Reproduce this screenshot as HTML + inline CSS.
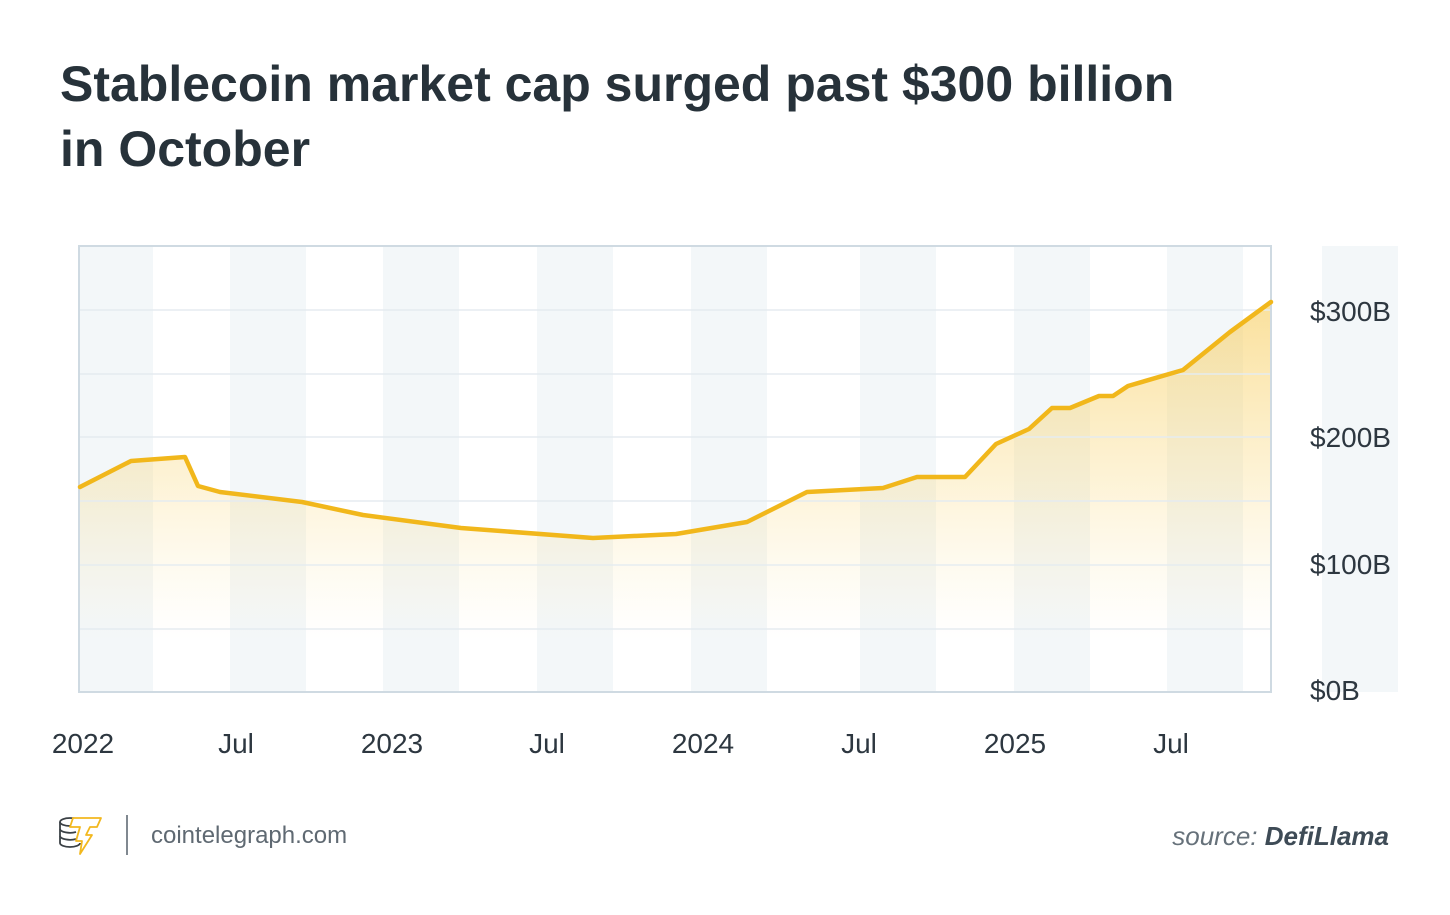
<!DOCTYPE html>
<html>
<head>
<meta charset="utf-8">
<style>
  html, body { margin: 0; padding: 0; background: #ffffff; }
  body { width: 1450px; height: 915px; overflow: hidden; }
  svg { display: block; }
</style>
</head>
<body>
<svg width="1450" height="915" viewBox="0 0 1450 915" xmlns="http://www.w3.org/2000/svg">
  <defs>
    <linearGradient id="fillGrad" gradientUnits="userSpaceOnUse" x1="0" y1="300" x2="0" y2="640">
      <stop offset="0" stop-color="#f7cd5e" stop-opacity="0.62"/>
      <stop offset="0.55" stop-color="#f9d675" stop-opacity="0.28"/>
      <stop offset="1" stop-color="#fbe3a0" stop-opacity="0"/>
    </linearGradient>
  </defs>

  <rect x="0" y="0" width="1450" height="915" fill="#ffffff"/>

  <!-- Title -->
  <text font-family="'Liberation Sans', Arial, sans-serif" font-weight="bold" font-size="50" fill="#27323a">
    <tspan x="60" y="101">Stablecoin market cap surged past $300 billion</tspan>
    <tspan x="60" y="166">in October</tspan>
  </text>

  <!-- Shaded bands -->
  <g fill="#f3f7f9">
    <rect x="80" y="247" width="73" height="444"/>
    <rect x="230" y="247" width="76" height="444"/>
    <rect x="383" y="247" width="76" height="444"/>
    <rect x="537" y="247" width="76" height="444"/>
    <rect x="691" y="247" width="76" height="444"/>
    <rect x="860" y="247" width="76" height="444"/>
    <rect x="1014" y="247" width="76" height="444"/>
    <rect x="1167" y="247" width="76" height="444"/>
    <rect x="1322" y="246" width="76" height="446"/>
  </g>

  <!-- Area fill -->
  <polygon fill="url(#fillGrad)" points="80,487 131,461 185,457 198,486 220,492 302,502 363,515 461,528 593,538 676,534 747,522 807,492 883,488 917,477 965,477 996,444 1029,429 1052,408 1070,408 1099,396 1113,396 1128,386 1183,370 1230,332 1271,302 1271,692 80,692"/>

  <!-- Gridlines -->
  <g stroke="#e5ecf0" stroke-width="1.5">
    <line x1="80" y1="310" x2="1270" y2="310"/>
    <line x1="80" y1="374" x2="1270" y2="374"/>
    <line x1="80" y1="437" x2="1270" y2="437"/>
    <line x1="80" y1="501" x2="1270" y2="501"/>
    <line x1="80" y1="565" x2="1270" y2="565"/>
    <line x1="80" y1="629" x2="1270" y2="629"/>
  </g>

  <!-- Plot border -->
  <rect x="79" y="246" width="1192" height="446" fill="none" stroke="#cfdae2" stroke-width="2"/>

  <!-- Line -->
  <polyline fill="none" stroke="#f1b71b" stroke-width="4.5" stroke-linejoin="round" stroke-linecap="round"
    points="80,487 131,461 185,457 198,486 220,492 302,502 363,515 461,528 593,538 676,534 747,522 807,492 883,488 917,477 965,477 996,444 1029,429 1052,408 1070,408 1099,396 1113,396 1128,386 1183,370 1230,332 1271,302"/>

  <!-- Y axis labels -->
  <g font-family="'Liberation Sans', Arial, sans-serif" font-size="28" fill="#2d3740">
    <text x="1310" y="321">$300B</text>
    <text x="1310" y="447">$200B</text>
    <text x="1310" y="574">$100B</text>
    <text x="1310" y="700">$0B</text>
  </g>

  <!-- X axis labels -->
  <g font-family="'Liberation Sans', Arial, sans-serif" font-size="28" fill="#2d3740" text-anchor="middle">
    <text x="83" y="753">2022</text>
    <text x="236" y="753">Jul</text>
    <text x="392" y="753">2023</text>
    <text x="547" y="753">Jul</text>
    <text x="703" y="753">2024</text>
    <text x="859" y="753">Jul</text>
    <text x="1015" y="753">2025</text>
    <text x="1171" y="753">Jul</text>
  </g>

  <!-- Footer logo -->
  <g fill="none" stroke="#3b4146" stroke-width="1.8">
    <ellipse cx="70" cy="822" rx="10" ry="4"/>
    <path d="M60,822 v21 a10,4 0 0 0 20,0"/>
    <path d="M60,829 a10,4 0 0 0 16,3"/>
    <path d="M60,836 a10,4 0 0 0 16,3"/>
  </g>
  <polygon points="73,818 101,818 97,827 90,827 86,835 92,835 80,854 82,841 76,841 80,827 70,827"
    fill="#ffffff" stroke="#f2b81e" stroke-width="1.8" stroke-linejoin="round"/>
  <line x1="127" y1="815" x2="127" y2="855" stroke="#808890" stroke-width="2"/>
  <text x="151" y="843" font-family="'Liberation Sans', Arial, sans-serif" font-size="24" fill="#5f6972">cointelegraph.com</text>

  <!-- Source -->
  <text x="1389" y="845" text-anchor="end" font-family="'Liberation Sans', Arial, sans-serif" font-size="26" font-style="italic"><tspan fill="#66717a">source: </tspan><tspan fill="#3e4b56" font-weight="bold">DefiLlama</tspan></text>
</svg>
</body>
</html>
